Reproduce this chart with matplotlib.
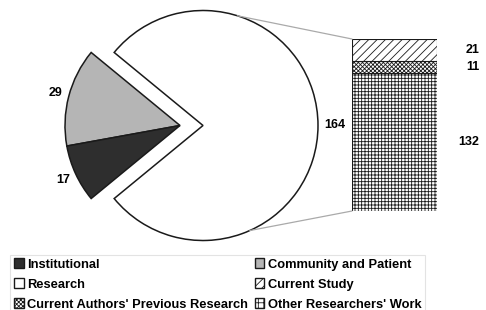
import numpy as np
import matplotlib
matplotlib.use('Agg')
import matplotlib.pyplot as plt
from matplotlib.patches import ConnectionPatch, Patch

plt.rcParams['font.family'] = ['Liberation Sans', 'DejaVu Sans']
plt.rcParams['font.weight'] = 'bold'
plt.rcParams['hatch.linewidth'] = 0.6

# pie data (order drawn counter-clockwise from start angle)
pie_labels = ['Community and Patient', 'Institutional', 'Research']
pie_values = [29, 17, 164]
pie_colors = ['#b5b5b5', '#2e2e2e', 'white']

# bar data (bottom to top)
bar_labels = ["Other Researchers' Work", "Current Authors' Previous Research", 'Current Study']
bar_values = [132, 11, 21]
bar_hatches = ['+++++', 'xxxxxxxx', '////']

W, H = 486, 310
fig = plt.figure(figsize=(W / 100, H / 100), dpi=100)

# pie axes: 1 data unit = 115 px, centre at (203, 125.5) px from top-left
R = 115
cx, cy = 203, 125.5
ax = fig.add_axes([(cx - 1.5 * R) / W, (H - cy - 1.05 * R) / H, 3 * R / W, 2.1 * R / H])
small = sum(pie_values[:2])
start = 180 - 360 * small / sum(pie_values) / 2
wedges, _ = ax.pie(pie_values, colors=pie_colors, startangle=start, counterclock=True,
                   wedgeprops=dict(edgecolor='#1a1a1a', linewidth=1.1))
shift = -23 / R
for w in wedges[:2]:
    w.set_center((shift, 0))
ax.set_xlim(-1.5, 1.5)
ax.set_ylim(-1.05, 1.05)
ax.axis('off')

for w, v in zip(wedges, pie_values):
    mid = np.deg2rad((w.theta1 + w.theta2) / 2)
    c = w.center
    r = 1.15 if v == 164 else 1.12
    ax.text(c[0] + r * np.cos(mid), c[1] + r * np.sin(mid), str(v),
            ha='center', va='center', fontsize=9, fontweight='bold')

# bar axes
bx = fig.add_axes([352 / W, (H - 211) / H, 85 / W, 172 / H])
bottom = 0
for lab, v, h in zip(bar_labels, bar_values, bar_hatches):
    bx.bar(0, v, width=1, bottom=bottom, color='white', edgecolor='#1a1a1a',
           hatch=h, linewidth=0.8)
    bx.text(1.5, bottom + v / 2, str(v), transform=bx.get_yaxis_transform(),
            ha='right', va='center', fontsize=9, fontweight='bold')
    bottom += v
bx.set_xlim(-0.5, 0.5)
bx.set_ylim(0, sum(bar_values))
bx.axis('off')

# connector lines
for ang, yb in [(72.6, sum(bar_values)), (-66, 0)]:
    a = np.deg2rad(ang)
    con = ConnectionPatch(xyA=(np.cos(a), np.sin(a)), coordsA=ax.transData,
                          xyB=(-0.5, yb), coordsB=bx.transData,
                          color='#aaaaaa', linewidth=0.9)
    fig.add_artist(con)

# legend
handles = [
    Patch(facecolor='#2e2e2e', edgecolor='#1a1a1a', label='Institutional'),
    Patch(facecolor='white', edgecolor='#1a1a1a', label='Research'),
    Patch(facecolor='white', edgecolor='#1a1a1a', hatch='xxxxxxxx', label="Current Authors' Previous Research"),
    Patch(facecolor='#b5b5b5', edgecolor='#1a1a1a', label='Community and Patient'),
    Patch(facecolor='white', edgecolor='#1a1a1a', hatch='////', label='Current Study'),
    Patch(facecolor='white', edgecolor='#1a1a1a', hatch='+++', label="Other Researchers' Work"),
]
leg = fig.legend(handles=handles, ncol=2, loc='lower left', bbox_to_anchor=(4 / W, -11 / H),
                 fontsize=9.3, frameon=True, fancybox=False, edgecolor='#dddddd',
                 handlelength=0.75, handleheight=0.75, handletextpad=0.25,
                 columnspacing=0.5, labelspacing=0.6, borderpad=0.3)
leg.get_frame().set_linewidth(0.8)

fig.savefig('out.png', dpi=100, facecolor='white')
